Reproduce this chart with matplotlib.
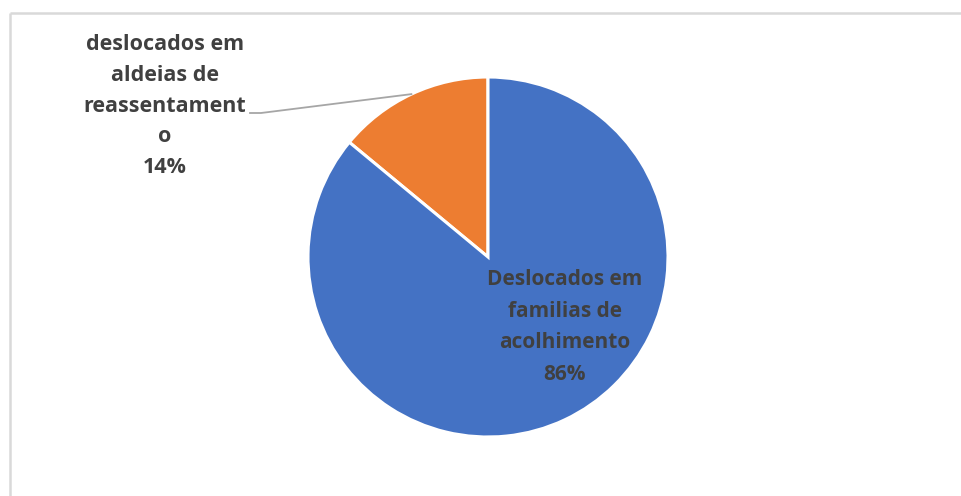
import numpy as np
import matplotlib
matplotlib.use("Agg")
import matplotlib.pyplot as plt

# ---- data --------------------------------------------------------------------
categories = ["deslocados em aldeias de reassentamento",
              "Deslocados em familias de acolhimento"]
label_text = ["deslocados em\naldeias de\nreassentament\no",
              "Deslocados em\nfamilias de\nacolhimento"]
values = [14, 86]
colors = ["#ED7D31", "#4472C4"]

# ---- style ---------------------------------------------------------------------
INK = "#404040"
FRAME = "#d9d9d9"
plt.rcParams["font.family"] = ["Open Sans", "DejaVu Sans"]

W, H, DPI = 962, 496, 100
fig = plt.figure(figsize=(W / DPI, H / DPI), dpi=DPI)
ax = fig.add_axes([0, 0, 1, 1])

cx, cy, r = 488, H - 257, 180
wedges, _ = ax.pie(values, colors=colors, startangle=90, counterclock=True,
                   center=(cx, cy), radius=r,
                   wedgeprops=dict(edgecolor="white", linewidth=2.2))
ax.set_xlim(0, W); ax.set_ylim(0, H)
ax.set_aspect("equal"); ax.axis("off")

# chart frame (only top/left edges show in the crop)
ax.plot([10, W + 5], [H - 13, H - 13], color=FRAME, lw=1.8, solid_capstyle="butt")
ax.plot([10, 10], [H - 13, -5], color=FRAME, lw=1.8, solid_capstyle="butt")

# small slice: label outside with leader line
w0 = wedges[0]
mid = np.deg2rad((w0.theta1 + w0.theta2) / 2)
ex, ey = cx + r * np.cos(mid), cy + r * np.sin(mid)
ax.plot([250, 261, ex], [H - 113, H - 113, ey], color="#a6a6a6", lw=1.3)
ax.text(165, H - 106, f"{label_text[0]}\n{values[0]}%", ha="center", va="center",
        fontsize=15.5, fontweight="bold", color=INK, linespacing=1.62)

# big slice: label inside
ax.text(565, H - 327, f"{label_text[1]}\n{values[1]}%", ha="center", va="center",
        fontsize=15, fontweight="bold", color=INK, linespacing=1.68)

fig.savefig("out.png", dpi=DPI, facecolor="white")
